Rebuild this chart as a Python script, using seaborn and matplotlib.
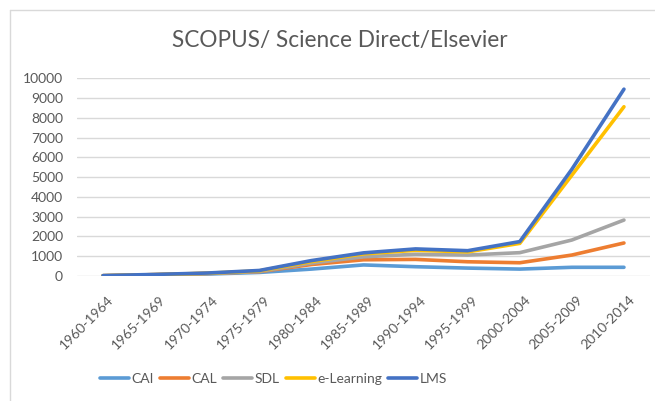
import matplotlib
matplotlib.use("Agg")
import matplotlib.pyplot as plt
import matplotlib.transforms as mtransforms
import seaborn as sns
import pandas as pd
from matplotlib.lines import Line2D

periods = ["1960-1964", "1965-1969", "1970-1974", "1975-1979", "1980-1984",
           "1985-1989", "1990-1994", "1995-1999", "2000-2004", "2005-2009",
           "2010-2014"]
cai = [10, 50, 100, 180, 350, 560, 470, 400, 350, 440, 440]
cal = [15, 70, 130, 220, 580, 820, 840, 720, 670, 1060, 1670]
sdl = [15, 60, 120, 230, 650, 970, 1100, 1060, 1180, 1820, 2830]
elearning = [15, 70, 140, 260, 730, 1120, 1300, 1220, 1650, 5100, 8560]
lms = [20, 80, 150, 280, 780, 1170, 1370, 1280, 1740, 5400, 9450]

series_names = ["CAI", "CAL", "SDL", "e-Learning", "LMS"]
colors = ["#5B9BD5", "#ED7D31", "#A5A5A5", "#FFC000", "#4472C4"]

sns.set_theme(style="white")
plt.rcParams['font.family'] = ['Lato', 'DejaVu Sans']

rows = []
for name, vals in zip(series_names, [cai, cal, sdl, elearning, lms]):
    for i, (p, v) in enumerate(zip(periods, vals)):
        rows.append({"period": p, "idx": i, "series": name, "value": v})
df = pd.DataFrame(rows)

fig = plt.figure(figsize=(6.55, 4.01), dpi=100)
ax = fig.add_axes([77/655, (401-276)/401, (650-77)/655, (276-78.3)/401])

sns.lineplot(data=df, x="idx", y="value", hue="series", hue_order=series_names,
             palette=colors, linewidth=2.6, ax=ax, legend=False, sort=False,
             solid_capstyle="round")

ax.set_xlim(-0.5, len(periods) - 0.5)
ax.set_ylim(0, 10000)
ax.set_yticks(range(0, 10001, 1000))
ax.set_yticklabels([str(v) for v in range(0, 10001, 1000)], fontsize=10, color="#595959")
ax.set_xticks(range(len(periods)))
ax.set_xticklabels(periods, rotation=45, ha="right", va="center", rotation_mode="anchor",
                   fontsize=10, color="#595959")
ax.tick_params(axis="x", length=0, pad=15.5)
ax.tick_params(axis="y", length=0, pad=10)
offset = mtransforms.ScaledTranslation(8.5/100, 0, fig.dpi_scale_trans)
for lbl in ax.get_xticklabels():
    lbl.set_transform(lbl.get_transform() + offset)
ax.grid(axis="y", color="#D9D9D9", linewidth=1)
ax.set_axisbelow(True)
for s in ax.spines.values():
    s.set_visible(False)
ax.set_xlabel("")
ax.set_ylabel("")

fig.text(339.5/655, 1 - 40/401, "SCOPUS/ Science Direct/Elsevier", ha="center", va="center",
         fontsize=16.3, color="#595959")

handles = [Line2D([0], [0], color=c, linewidth=2.6) for c in colors]
fig.legend(handles, series_names, loc="center", bbox_to_anchor=(273.5/655, 1 - 379/401),
           ncol=5, frameon=False, fontsize=10, handlelength=2.1, handletextpad=0.15,
           columnspacing=0.45, labelcolor="#595959")

# chart frame (top and left edges visible)
fig.add_artist(Line2D([10/655, 10/655], [0, 1 - 10/401], transform=fig.transFigure,
                      color="#D9D9D9", linewidth=1))
fig.add_artist(Line2D([10/655, 1], [1 - 10/401, 1 - 10/401], transform=fig.transFigure,
                      color="#D9D9D9", linewidth=1))

fig.savefig("out.png", dpi=100)
